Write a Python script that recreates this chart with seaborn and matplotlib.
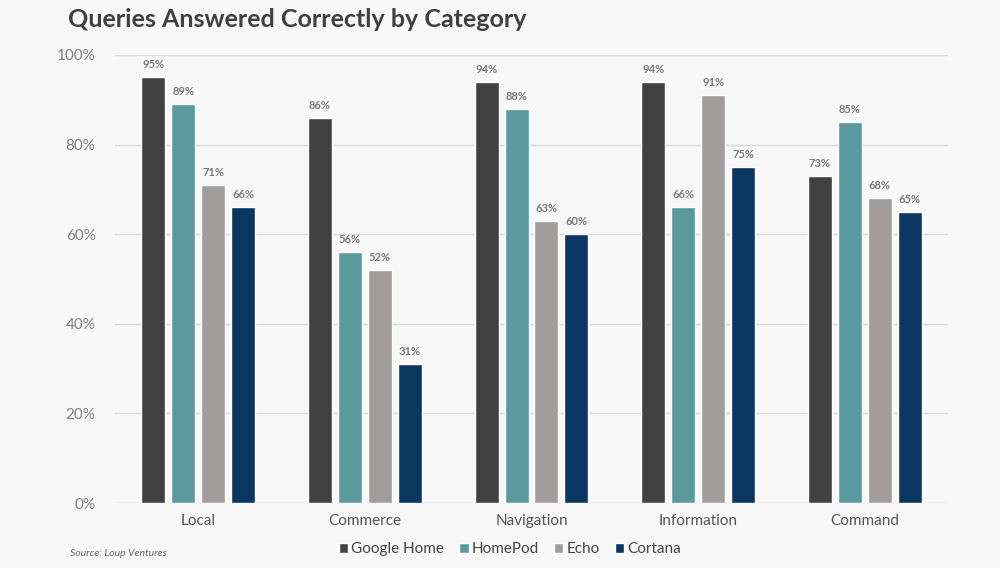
import matplotlib
matplotlib.use("Agg")
import matplotlib.pyplot as plt
import seaborn as sns
import pandas as pd
from matplotlib.ticker import FuncFormatter

categories = ["Local", "Commerce", "Navigation", "Information", "Command"]
google_home = [95, 86, 94, 94, 73]
homepod = [89, 56, 88, 66, 85]
echo = [71, 52, 63, 91, 68]
cortana = [66, 31, 60, 75, 65]
series_names = ["Google Home", "HomePod", "Echo", "Cortana"]
colors = ["#414141", "#5a9a9f", "#a29d9d", "#0a3662"]

rows = []
for name, vals in zip(series_names, [google_home, homepod, echo, cortana]):
    for c, v in zip(categories, vals):
        rows.append({"Category": c, "Device": name, "Value": v})
df = pd.DataFrame(rows)

sns.set_theme(style="white")
plt.rcParams['font.family'] = ['Lato', 'DejaVu Sans']

bg = "#f8f8f8"
fig = plt.figure(figsize=(10, 5.68), dpi=100, facecolor=bg)
ax = fig.add_axes([0.115, 0.1144, 0.833, 0.7888])
ax.set_facecolor(bg)

sns.barplot(data=df, x="Category", y="Value", hue="Device", hue_order=series_names,
            order=categories, palette=colors, width=0.72, gap=0.2, ax=ax,
            saturation=1, legend=False, errorbar=None)

for cont in ax.containers:
    ax.bar_label(cont, labels=[f"{int(round(b.get_height()))}%" for b in cont],
                 padding=5, fontsize=8, color="#7a7a7a", fontweight="bold")

ax.set_ylim(0, 100)
ax.set_yticks([0, 20, 40, 60, 80, 100])
ax.yaxis.set_major_formatter(FuncFormatter(lambda v, p: f"{int(v)}%"))
ax.yaxis.grid(True, color="#d9d9d9", linewidth=1)
ax.set_axisbelow(True)
for s in ax.spines.values():
    s.set_visible(False)
ax.set_xlabel("")
ax.set_ylabel("")
ax.tick_params(axis="y", labelsize=11, colors="#7f7f7f", pad=14, length=0)
ax.tick_params(axis="x", labelsize=11, colors="#555555", pad=8, length=0)
ax.set_xlim(-0.5, 4.5)

fig.text(0.068, 0.966, "Queries Answered Correctly by Category", fontsize=18,
         fontweight="bold", color="#404040", va="center", ha="left")
fig.text(0.07, 0.025, "Source: Loup Ventures", fontsize=7.5, style="italic",
         color="#666666", va="center", ha="left")

from matplotlib.patches import Patch
handles = [Patch(facecolor=c, label=n) for c, n in zip(colors, series_names)]
fig.legend(handles=handles, loc="center", bbox_to_anchor=(0.51, 0.033), ncol=4,
           frameon=False, fontsize=11, handlelength=0.6, handleheight=0.6,
           handletextpad=0.2, columnspacing=1.0, labelcolor="#444444")

fig.savefig("out.png", dpi=100, facecolor=bg)
